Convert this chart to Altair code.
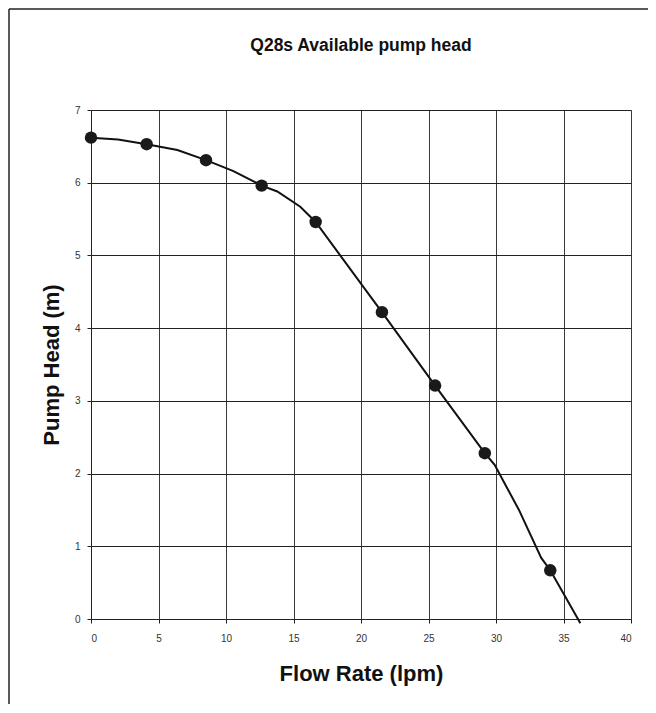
import altair as alt
import pandas as pd

# measured pump points
flow_points = [0, 4.12, 8.52, 12.64, 16.64, 21.55, 25.49, 29.17, 34.02]
head_points = [6.62, 6.53, 6.31, 5.96, 5.46, 4.22, 3.21, 2.28, 0.67]

# fitted curve vertices
curve_flow = [0, 2.0, 4.12, 6.4, 8.52, 10.55, 12.64, 13.8, 15.5, 16.64,
              21.55, 25.49, 29.17, 29.9, 31.7, 33.35, 34.02, 36.25]
curve_head = [6.62, 6.595, 6.53, 6.45, 6.31, 6.16, 5.96, 5.88, 5.67, 5.46,
              4.22, 3.21, 2.28, 2.12, 1.50, 0.84, 0.67, -0.06]

x_ticks = [0, 5, 10, 15, 20, 25, 30, 35, 40]
y_ticks = [0, 1, 2, 3, 4, 5, 6, 7]

pts = pd.DataFrame({"flow": flow_points, "head": head_points})
curve = pd.DataFrame({"flow": curve_flow, "head": curve_head,
                      "order": list(range(len(curve_flow)))})
one = pd.DataFrame({"a": [0]})

W, H = 540, 509
FONT = "Liberation Sans"

x_enc = alt.X(
    "flow:Q",
    scale=alt.Scale(domain=[0, 40], nice=False, zero=False),
    axis=alt.Axis(
        values=x_ticks, title="Flow Rate (lpm)", grid=True, format="d",
        gridColor="#3a3a3a", gridWidth=1, domainColor="#222", tickColor="#222",
        tickSize=4, labelFontSize=10, labelColor="#333", labelPadding=10,
        labelFont=FONT, titleFont=FONT,
        titleFontSize=22, titleFontWeight="bold", titleColor="#111",
        titleX=W / 2, titleY=61, titleBaseline="alphabetic", titleAlign="center",
    ),
)
y_enc = alt.Y(
    "head:Q",
    scale=alt.Scale(domain=[0, 7], nice=False, zero=False),
    axis=alt.Axis(
        values=y_ticks, title="Pump Head (m)", grid=True, format="d",
        gridColor="#222", gridWidth=1, domainColor="#222", tickColor="#222",
        tickSize=4, labelFontSize=10, labelColor="#333", labelPadding=7,
        labelFont=FONT, titleFont=FONT,
        titleFontSize=22, titleFontWeight="bold", titleColor="#111",
        titleX=-33, titleY=H / 2, titleBaseline="alphabetic", titleAlign="center",
        titleAngle=270,
    ),
)

line = alt.Chart(curve).mark_line(color="#111", strokeWidth=2, clip=False).encode(
    x=x_enc, y=y_enc, order="order:Q"
)
dots = alt.Chart(pts).mark_circle(size=155, color="#1a1a1a", opacity=1).encode(
    x=alt.X("flow:Q"), y=alt.Y("head:Q")
)

frame_left = alt.Chart(one).mark_rule(color="#222", strokeWidth=1.5).encode(
    x=alt.value(-82), y=alt.value(-101), y2=alt.value(H + 90)
)
frame_top = alt.Chart(one).mark_rule(color="#222", strokeWidth=1.5).encode(
    x=alt.value(-82), x2=alt.value(W + 20), y=alt.value(-101)
)

chart = alt.layer(line, dots, frame_left, frame_top).properties(
    width=W, height=H,
    title=alt.TitleParams(
        "Q28s Available pump head", font=FONT, fontSize=17.5, fontWeight="bold",
        color="#111", offset=-60, anchor="middle", frame="group",
        baseline="alphabetic",
    ),
    autosize=alt.AutoSizeParams(type="none"),
    padding={"left": 83, "top": 102, "right": 17, "bottom": 85},
).configure_view(stroke=None).configure(font=FONT)

chart.save("out.html", embed_options={"renderer": "svg", "actions": False})
